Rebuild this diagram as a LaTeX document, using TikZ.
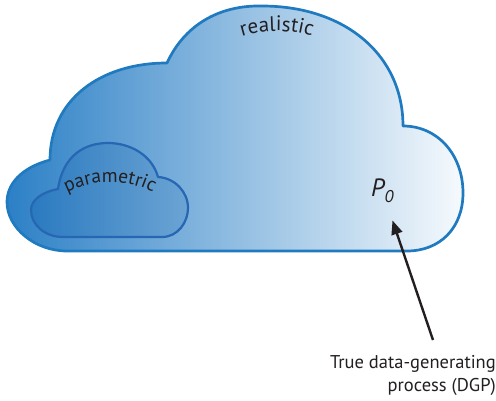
\documentclass[tikz,border=0pt]{standalone}
\usepackage{fontspec}
\setmainfont{PT Sans}
\usetikzlibrary{arrows.meta,decorations.text}
\definecolor{cloudleft}{RGB}{44,128,198}
\definecolor{cloudright}{RGB}{246,250,253}
\definecolor{cloudline}{RGB}{32,122,192}
\definecolor{paramleft}{RGB}{42,122,192}
\definecolor{paramright}{RGB}{108,164,212}
\definecolor{paramline}{RGB}{38,102,178}
\definecolor{labeltext}{RGB}{35,31,32}
\newcommand\colorCloudline{cloudline}
\newcommand\colorParamline{paramline}
\newcommand\colorLabel{labeltext}
\newcommand\cloudLinewidth{2.7pt}

\begin{document}
\begin{tikzpicture}[x=1pt,y=1pt]
		\useasboundingbox (0,0) rectangle (496,400);

		\draw[color=\colorCloudline, line width=\cloudLinewidth, line join=round, left color=cloudleft, right color=cloudright]
			(67,149) -- (407,149)
			.. controls (440,149) and (463,172) .. (463,207)
			.. controls (463,245) and (438,274) .. (403,274)
			.. controls (403,345) and (345,394) .. (262,394)
			.. controls (218,395) and (184,374) .. (167,337)
			.. controls (100,337) and (50,300) .. (50,240)
			.. controls (20,232) and (7,215) .. (7,198)
			.. controls (7,172) and (35,149) .. (67,149) -- cycle;

		\draw[color=\colorParamline, line width=2.2pt, line join=round, left color=paramleft, right color=paramright]
			(63,163) -- (162,163)
			.. controls (178,163) and (188,178) .. (188,192)
			.. controls (188,208) and (175,222) .. (158,223)
			.. controls (152,245) and (130,257) .. (108,257)
			.. controls (85,257) and (63,245) .. (58,211)
			.. controls (42,208) and (31,200) .. (31,190)
			.. controls (31,175) and (45,163) .. (63,163) -- cycle;

		\path[decorate, decoration={text along path, text align=center, text color=\colorLabel,
			text={|\fontsize{21}{21}\selectfont|realistic}}]
			(277,251) ++(112:118pt) arc[start angle=112, end angle=68, radius=118pt];
		\path[decorate, decoration={text along path, text align=center, text color=\colorLabel,
			text={|\fontsize{19.5}{19.5}\selectfont|parametric}}]
			(110,124) ++(132:94pt) arc[start angle=132, end angle=48, radius=94pt];

		\node[anchor=base west, inner sep=0pt, text=\colorLabel, font=\fontsize{25}{25}\selectfont\itshape] (p0) at (371,204)
			{P\raisebox{-6pt}{\fontsize{17}{17}\selectfont 0}};
		\node[anchor=north east, align=right, inner sep=0pt, text=\colorLabel, font=\fontsize{18.5}{23}\selectfont] (dgp) at (496,45)
			{True data-generating\\process (DGP)};

		\draw[-{Triangle[length=14pt,width=11pt]}, line width=2.4pt, color=\colorLabel, shorten >=19pt]
			([xshift=-63pt,yshift=15pt]dgp.north east) -- (p0);
	\end{tikzpicture}
\end{document}
